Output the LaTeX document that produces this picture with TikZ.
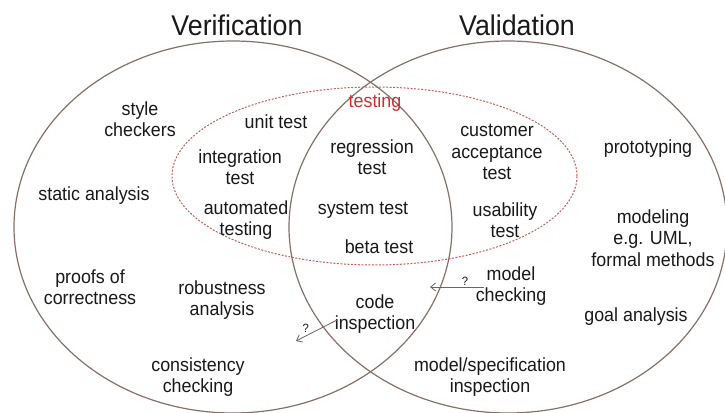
\documentclass[tikz,border=0pt]{standalone}
\usepackage{fontspec}
\setmainfont[FakeStretch=0.94]{Liberation Sans}
\usetikzlibrary{arrows.meta,shapes.geometric}
\definecolor{ringc}{RGB}{135,112,106}
\definecolor{txt}{RGB}{25,25,25}
\definecolor{testred}{RGB}{210,45,45}
\definecolor{dashred}{RGB}{195,95,95}
\definecolor{arrc}{RGB}{110,100,98}
\begin{document}
\begin{tikzpicture}[x=1pt,y=-1pt,
  lbl/.style={font=\fontsize{19}{21.5}\selectfont, text=txt, align=center, inner sep=0pt},
  ttl/.style={font=\fontsize{28.5}{30}\selectfont, text=txt, inner sep=0pt},
  ringbox/.style={draw=ringc, line width=1.2pt, ellipse, minimum width=438pt, minimum height=372pt, inner sep=0pt},
  testbox/.style={draw=dashred, line width=1pt, dash pattern=on 2pt off 1.5pt, ellipse, minimum width=405pt, minimum height=178pt, inner sep=0pt},
  qarrow/.style={draw=arrc, line width=0.8pt, -{Straight Barb[length=5pt,width=8pt]}},
  qmark/.style={font=\fontsize{12}{12}\selectfont, text=txt, inner sep=1pt}
]
\useasboundingbox[fill=white] (0,0) rectangle (725,412);
\node[ringbox] (verif) at (233,227) {};
\node[ringbox] (valid) at (508,227) {};
\node[testbox] (testing) at (374.5,176) {};

\node[ttl] (tverif) at (237,25) {Verification};
\node[ttl] (tvalid) at (517,25) {Validation};

\node[lbl] (style) at (140,119) {style\\checkers};
\node[lbl] (unit) at (276,122) {unit test};
\node[lbl] (integ) at (240,167) {integration\\test};
\node[lbl] (auto) at (246,220) {automated\\testing};
\node[lbl] (static) at (94,196) {static analysis};
\node[lbl] (proofs) at (90,287) {proofs of\\correctness};
\node[lbl] (robust) at (222,300) {robustness\\analysis};
\node[lbl] (consist) at (198,377) {consistency\\checking};

\node[lbl, text=testred] (ttest) at (375,103) {testing};
\node[lbl] (regr) at (372,157) {regression\\test};
\node[lbl] (sys) at (363,210) {system test};
\node[lbl] (beta) at (379,247) {beta test};
\node[lbl] (code) at (375,314) {code\\inspection};

\node[lbl] (cust) at (497,152) {customer\\acceptance\\test};
\node[lbl] (usab) at (505,220) {usability\\test};
\node[lbl] (model) at (511,286) {model\\checking};
\node[lbl] (proto) at (648,149) {prototyping};
\node[lbl] (modeling) at (653,238) {modeling\\e.g. UML,\\formal methods};
\node[lbl] (goal) at (636,317) {goal analysis};
\node[lbl] (mspec) at (490,377) {model/specification\\inspection};

\coordinate (a1s) at (484,287);
\coordinate (a1e) at (430,287);
\draw[qarrow] (a1s) -- (a1e) node[qmark, pos=0.35, above] (q1) {?};
\coordinate (a2s) at (337,320);
\coordinate (a2e) at (296,341);
\draw[qarrow] (a2s) -- (a2e) node[qmark, pos=0.65, above left] (q2) {?};
\end{tikzpicture}
\end{document}
